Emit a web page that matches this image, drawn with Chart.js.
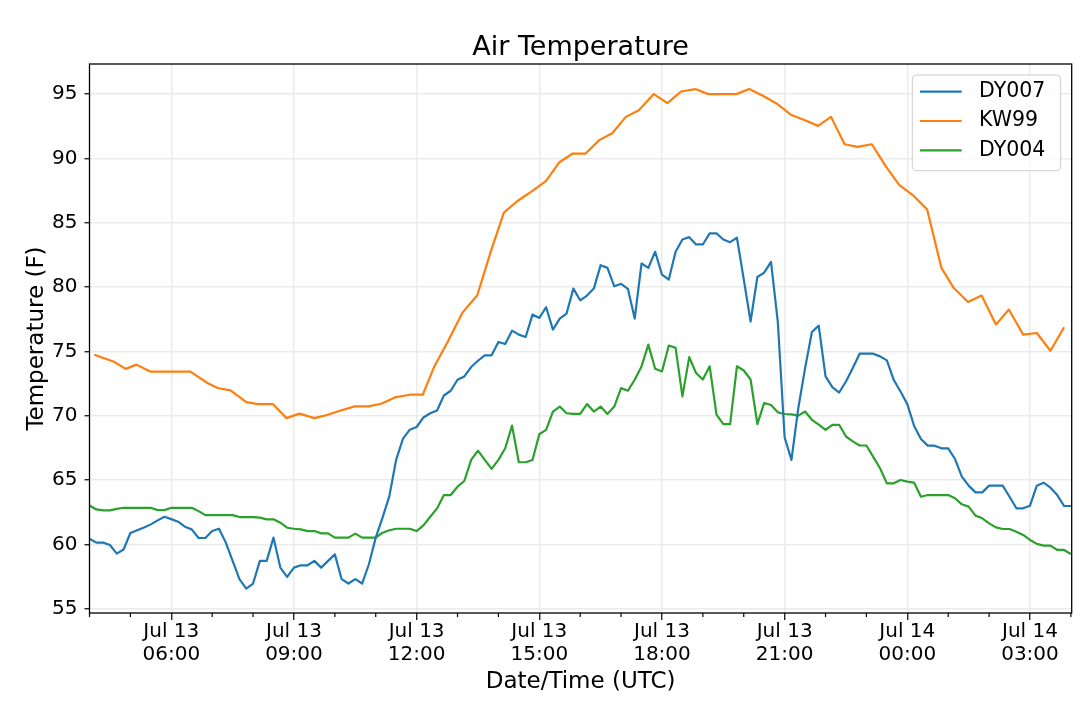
<!DOCTYPE html>
<html><head><meta charset="utf-8">
<script src="https://cdn.jsdelivr.net/npm/chart.js@4.4.0/dist/chart.umd.min.js"></script>
<style>html,body{margin:0;padding:0;background:#fff;}canvas{display:block;}</style>
</head><body>
<canvas id="c" width="1080" height="714"></canvas>
<script>
// ---------------- data ----------------
const seriesNames = ['DY007', 'KW99', 'DY004'];
const seriesColors = ['#1f77b4', '#ff7f0e', '#2ca02c'];

// DY007 and DY004: one reading every 10 minutes, Jul 13 04:00 -> Jul 14 04:00 (UTC)
const tenMinStartHour = 4;
const tenMinStepMinutes = 10;

const dy007 = [
  60.44, 60.13, 60.13, 59.95, 59.28, 59.6,
  60.88, 61.1, 61.3, 61.55, 61.86, 62.14,
  61.96, 61.76, 61.37, 61.16, 60.49, 60.49,
  61.03, 61.21, 60.13, 58.71, 57.29, 56.56,
  56.95, 58.71, 58.71, 60.52, 58.19, 57.47,
  58.19, 58.37, 58.37, 58.71, 58.19, 58.71,
  59.22, 57.29, 56.95, 57.29, 56.95, 58.45,
  60.52, 62.07, 63.75, 66.59, 68.22, 68.91,
  69.12, 69.86, 70.19, 70.4, 71.57, 71.94,
  72.79, 73.05, 73.78, 74.27, 74.69, 74.69,
  75.73, 75.57, 76.61, 76.3, 76.12, 77.86,
  77.6, 78.43, 76.69, 77.55, 77.94, 79.88,
  78.97, 79.34, 79.88, 81.7, 81.49, 80.06,
  80.25, 79.86, 77.55, 81.83, 81.49, 82.74,
  80.97, 80.58, 82.74, 83.7, 83.88, 83.31,
  83.31, 84.17, 84.17, 83.7, 83.49, 83.83,
  80.6, 77.32, 80.78, 81.12, 81.95, 77.27,
  68.3, 66.56, 70.58, 73.7, 76.5, 77.0,
  73.05, 72.22, 71.8, 72.66, 73.7, 74.82,
  74.82, 74.82, 74.61, 74.3, 72.79, 71.88,
  70.9, 69.2, 68.19, 67.67, 67.67, 67.46,
  67.46, 66.63, 65.26, 64.56, 64.04, 64.04,
  64.56, 64.56, 64.56, 63.7, 62.8, 62.8,
  63.0, 64.56, 64.79, 64.4, 63.83, 62.98,
  62.98
];

const dy004 = [
  63.02, 62.71, 62.64, 62.64, 62.76, 62.84,
  62.84, 62.84, 62.84, 62.84, 62.66, 62.66,
  62.84, 62.84, 62.84, 62.84, 62.58, 62.27,
  62.27, 62.27, 62.27, 62.27, 62.12, 62.12,
  62.12, 62.07, 61.94, 61.94, 61.68, 61.29,
  61.21, 61.16, 61.03, 61.03, 60.85, 60.85,
  60.52, 60.52, 60.52, 60.83, 60.52, 60.52,
  60.52, 60.9, 61.09, 61.21, 61.21, 61.21,
  61.03, 61.47, 62.14, 62.79, 63.83, 63.83,
  64.48, 64.92, 66.56, 67.29, 66.56, 65.86,
  66.56, 67.47, 69.23, 66.38, 66.38, 66.56,
  68.56, 68.9, 70.32, 70.71, 70.19, 70.14,
  70.14, 70.9, 70.32, 70.71, 70.14, 70.71,
  72.14, 71.94, 72.79, 73.83, 75.52, 73.65,
  73.44, 75.45, 75.27, 71.5, 74.55, 73.32,
  72.81, 73.84, 70.08, 69.35, 69.35, 73.84,
  73.51, 72.81, 69.35, 70.99, 70.83, 70.26,
  70.13, 70.1, 70.0, 70.32, 69.68, 69.3,
  68.9, 69.29, 69.29, 68.38, 68.0, 67.68,
  67.68, 66.8, 65.91, 64.74, 64.74, 65.0,
  64.87, 64.79, 63.7, 63.83, 63.83, 63.83,
  63.83, 63.58, 63.11, 62.93, 62.23, 62.02,
  61.63, 61.32, 61.19, 61.19, 60.98, 60.73,
  60.34, 60.03, 59.9, 59.9, 59.56, 59.56,
  59.25
];

// KW99: irregular reports (UTC, times before 04:00 belong to Jul 14)
const kw99Times = [
  '04:07','04:36','04:53','05:09','05:29','05:49','06:09','06:28','06:53',
  '07:08','07:27','07:50','08:07','08:29','08:49','09:08','09:30','09:45',
  '10:04','10:29','10:49','11:08','11:28','11:50','12:09','12:26','12:46',
  '13:07','13:29','13:49','14:08','14:28','14:50','15:10','15:29','15:49',
  '16:08','16:28','16:47','17:07','17:26','17:48','18:08','18:28','18:49',
  '19:08','19:29','19:49','20:08','20:28','20:48','21:09','21:28','21:49',
  '22:08','22:28','22:47','23:08','23:28','23:48','00:09','00:29','00:50',
  '01:08','01:29','01:49','02:10','02:29','02:50','03:10','03:30','03:50'
];
const kw99 = [
  74.73, 74.19, 73.64, 73.97, 73.43, 73.43, 73.43, 73.43, 72.54,
  72.15, 71.97, 71.06, 70.9, 70.9, 69.81, 70.16, 69.81, 70.0,
  70.33, 70.72, 70.72, 70.93, 71.42, 71.63, 71.63, 73.83, 75.78,
  77.99, 79.36, 82.79, 85.78, 86.69, 87.47, 88.25, 89.68, 90.38,
  90.38, 91.42, 91.96, 93.23, 93.75, 95.0, 94.3, 95.2, 95.39,
  95.0, 95.0, 95.0, 95.39, 94.87, 94.27, 93.4, 93.0, 92.53,
  93.23, 91.1, 90.9, 91.1, 89.42, 87.94, 87.1, 86.04, 81.49,
  79.94, 78.84, 79.34, 77.08, 78.25, 76.3, 76.43, 75.05, 76.87
];

// axis ticks (hours counted from Jul 13 00:00 UTC)
const xTickHours = [6, 9, 12, 15, 18, 21, 24, 27];
const xTickLabels = [
  ['Jul 13', '06:00'], ['Jul 13', '09:00'], ['Jul 13', '12:00'], ['Jul 13', '15:00'],
  ['Jul 13', '18:00'], ['Jul 13', '21:00'], ['Jul 14', '00:00'], ['Jul 14', '03:00']
];
const xMinorHours = [4,5,7,8,10,11,13,14,16,17,19,20,22,23,25,26,28];
const yTicks = [55, 60, 65, 70, 75, 80, 85, 90, 95];
const xRange = [4, 28.02];
const yRange = [54.66, 97.34];

// ---------------- build ----------------
function clockToHour(t) {
  const [h, m] = t.split(':').map(Number);
  let v = h + m / 60;
  if (v < 4) v += 24;
  return v;
}
function tenMinPoints(arr) {
  return arr.map((v, i) => ({ x: tenMinStartHour + i * tenMinStepMinutes / 60, y: v }));
}
const kwPoints = kw99.map((v, i) => ({ x: clockToHour(kw99Times[i]), y: v }));

const FONT = "'DejaVu Sans', 'Liberation Sans', sans-serif";
Chart.defaults.font.family = FONT;
Chart.defaults.color = '#000';
const GRID = '#ebebeb';

function ds(label, data, color) {
  return {
    label, data, borderColor: color, backgroundColor: color,
    borderWidth: 2.2, pointRadius: 0, pointHoverRadius: 0,
    tension: 0, fill: false, borderJoinStyle: 'round', borderCapStyle: 'butt'
  };
}

const framePlugin = {
  id: 'frame',
  afterDraw(chart) {
    const { ctx, chartArea: a, scales: { x } } = chart;
    ctx.save();
    // minor ticks
    ctx.strokeStyle = '#000';
    ctx.lineWidth = 1.2;
    xMinorHours.forEach(h => {
      const px = x.getPixelForValue(h);
      ctx.beginPath();
      ctx.moveTo(px, a.bottom);
      ctx.lineTo(px, a.bottom + 4);
      ctx.stroke();
    });
    // spines
    ctx.lineWidth = 1.3;
    ctx.strokeRect(a.left, a.top, a.right - a.left, a.bottom - a.top);
    // legend
    const bw = 148.4, bh = 95.7;
    const bx = a.right - 11 - bw, by = a.top + 11;
    ctx.beginPath();
    if (ctx.roundRect) ctx.roundRect(bx, by, bw, bh, 4); else ctx.rect(bx, by, bw, bh);
    ctx.fillStyle = 'rgba(255,255,255,0.8)';
    ctx.fill();
    ctx.strokeStyle = '#cccccc';
    ctx.lineWidth = 1;
    ctx.stroke();
    ctx.font = '20.5px ' + FONT;
    ctx.textBaseline = 'middle';
    ctx.textAlign = 'left';
    chart.data.datasets.forEach((d, i) => {
      const ry = by + 16.7 + i * 29.3;
      ctx.strokeStyle = d.borderColor;
      ctx.lineWidth = 2.2;
      ctx.beginPath();
      ctx.moveTo(bx + 7.7, ry);
      ctx.lineTo(bx + 49.4, ry);
      ctx.stroke();
      ctx.fillStyle = '#000';
      ctx.fillText(d.label, bx + 66.7, ry);
    });
    ctx.restore();
  }
};

new Chart(document.getElementById('c'), {
  type: 'line',
  data: {
    datasets: [
      ds(seriesNames[0], tenMinPoints(dy007), seriesColors[0]),
      ds(seriesNames[1], kwPoints, seriesColors[1]),
      ds(seriesNames[2], tenMinPoints(dy004), seriesColors[2])
    ]
  },
  options: {
    responsive: false,
    animation: false,
    devicePixelRatio: 1,
    events: [],
    layout: { padding: { left: 0, right: 8.3, top: 0, bottom: 0 } },
    plugins: {
      legend: { display: false },
      tooltip: { enabled: false },
      title: {
        display: true, text: 'Air Temperature', fullSize: false, color: '#000',
        font: { family: FONT, size: 27, weight: 'normal', lineHeight: 1.2 },
        padding: { top: 31.6, bottom: 0 }
      }
    },
    scales: {
      x: {
        type: 'linear', min: xRange[0], max: xRange[1],
        afterBuildTicks: s => { s.ticks = xTickHours.map(v => ({ value: v })); },
        afterFit: s => { s.height = 101; },
        ticks: {
          autoSkip: false, maxRotation: 0, minRotation: 0, padding: 0, color: '#000',
          font: { size: 20, lineHeight: 1.15 },
          callback: v => { const i = xTickHours.indexOf(v); return i >= 0 ? xTickLabels[i] : ''; }
        },
        grid: { color: GRID, lineWidth: 1.5, tickLength: 7, tickColor: '#000', tickWidth: 1.2 },
        border: { display: false },
        title: {
          display: true, text: 'Date/Time (UTC)', color: '#000',
          font: { size: 23, lineHeight: 1.2 }, padding: { top: 0, bottom: 18.2 }
        }
      },
      y: {
        type: 'linear', min: yRange[0], max: yRange[1],
        afterBuildTicks: s => { s.ticks = yTicks.map(v => ({ value: v })); },
        afterFit: s => { s.width = 89.5; },
        ticks: { padding: 7, color: '#000', font: { size: 20 } },
        grid: { color: GRID, lineWidth: 1.5, tickLength: 5, tickColor: '#000', tickWidth: 1.2 },
        border: { display: false },
        title: {
          display: true, text: 'Temperature (F)', color: '#000',
          font: { size: 23, lineHeight: 1.2 }, padding: { top: 23, bottom: 0 }
        }
      }
    }
  },
  plugins: [framePlugin]
});
</script>
</body></html>
